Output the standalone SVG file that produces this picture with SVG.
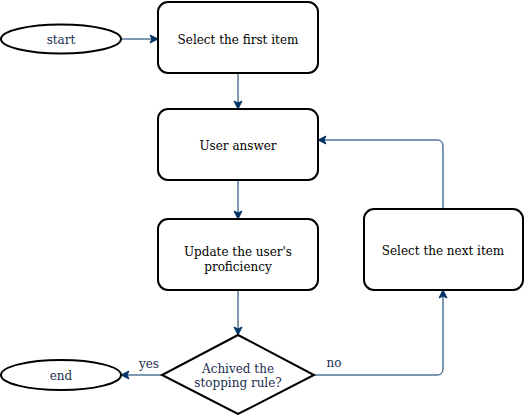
<svg xmlns="http://www.w3.org/2000/svg" width="524" height="415" viewBox="0 0 524 415">
<defs>
<marker id="ah" markerWidth="10" markerHeight="10" refX="8" refY="5" orient="auto" markerUnits="userSpaceOnUse">
<path d="M1,1 L9,5 L1,9 L3,5 Z" fill="#003366" stroke="#003366" stroke-width="1"/>
</marker>
<style>
.n{fill:#fff;stroke:#000;stroke-width:2}
.t{font-family:"DejaVu Serif",serif;font-size:12px;fill:#000;text-anchor:middle}
.tb{font-family:"DejaVu Serif",serif;font-size:12px;fill:#1b2d4f;text-anchor:middle}
.c{fill:none;stroke:#003366;stroke-width:1;marker-end:url(#ah)}
</style>
</defs>
<rect width="524" height="415" fill="#fff"/>
<g id="connectors">
<path class="c" d="M121,39 L157,39"/>
<path class="c" d="M238,73 L238,108"/>
<path class="c" d="M238,180 L238,218"/>
<path class="c" d="M238,290 L238,334"/>
<path class="c" d="M162,375 L122,375"/>
<path class="c" d="M314,375 L437,375 Q443,375 443,369 L443,291"/>
<path class="c" d="M443,209 L443,146 Q443,140 437,140 L319,140"/>
<text class="tb" x="149" y="368">yes</text>
<text class="tb" x="334" y="367">no</text>
</g>
<g id="start">
<ellipse class="n" cx="61" cy="39" rx="60" ry="14.5"/>
<text class="tb" x="61" y="43.5">start</text>
</g>
<g id="first">
<rect class="n" x="158" y="2" width="160" height="71" rx="10"/>
<text class="t" x="238" y="43.5">Select the first item</text>
</g>
<g id="answer">
<rect class="n" x="158" y="109" width="160" height="71" rx="10"/>
<text class="t" x="238" y="149.5">User answer</text>
</g>
<g id="update">
<rect class="n" x="158" y="219" width="160" height="71" rx="10"/>
<text class="t" x="238" y="256">Update the user's</text>
<text class="t" x="238" y="271">proficiency</text>
</g>
<g id="decision">
<polygon class="n" points="238,335 314,375 238,414 162,375"/>
<text class="tb" x="238" y="373">Achived the</text>
<text class="tb" x="238" y="387">stopping rule?</text>
</g>
<g id="end">
<ellipse class="n" cx="61" cy="375" rx="60" ry="15"/>
<text class="tb" x="61" y="379.5">end</text>
</g>
<g id="next">
<rect class="n" x="364" y="209" width="159" height="81" rx="10"/>
<text class="t" x="443" y="254.5">Select the next item</text>
</g>
</svg>
